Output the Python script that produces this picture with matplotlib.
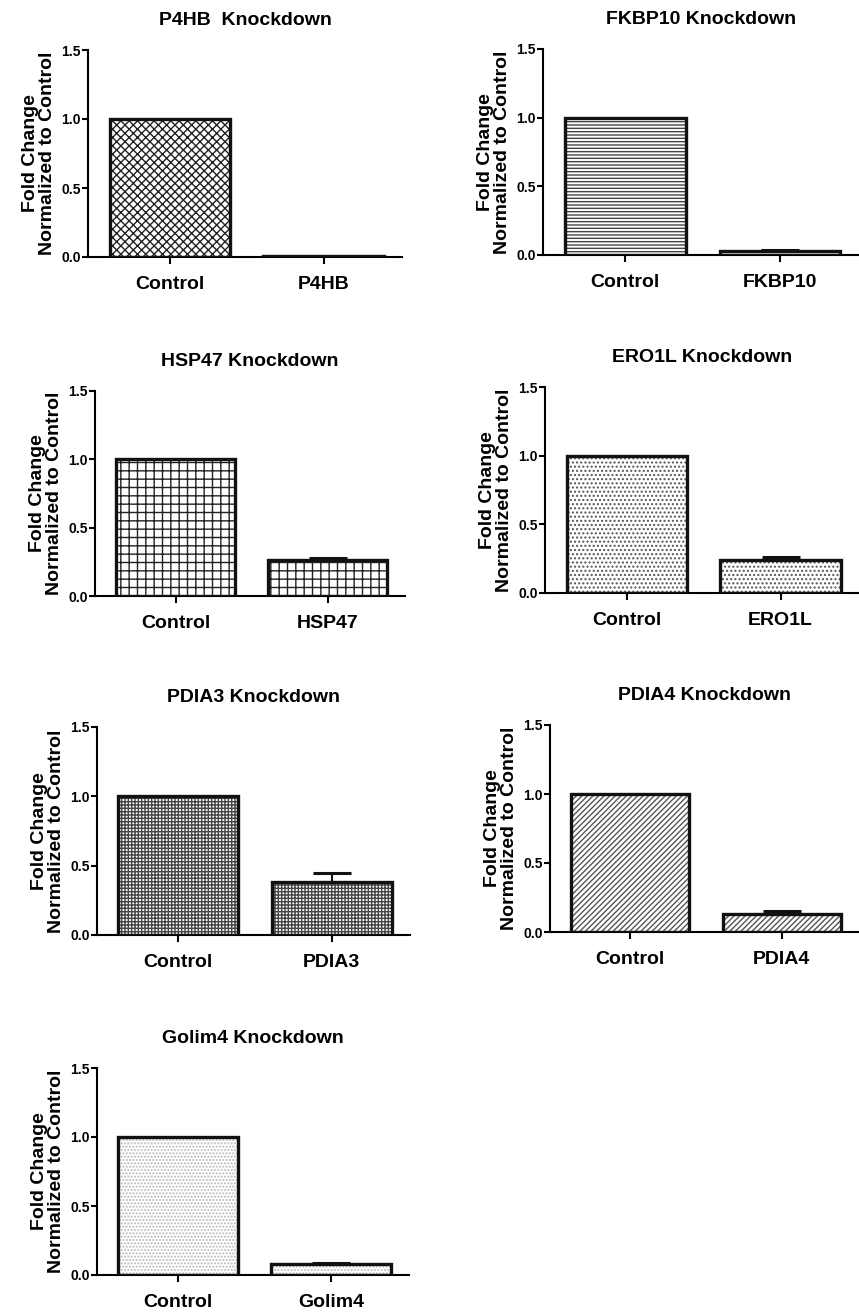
import matplotlib.pyplot as plt

plt.rcParams['font.family'] = ['Liberation Sans', 'DejaVu Sans']
plt.rcParams['font.weight'] = 'bold'
plt.rcParams['hatch.linewidth'] = 1.0

W, H = 859, 1312

genes = ['P4HB', 'FKBP10', 'HSP47', 'ERO1L', 'PDIA3', 'PDIA4', 'Golim4']
titles = ['P4HB  Knockdown', 'FKBP10 Knockdown', 'HSP47 Knockdown', 'ERO1L Knockdown',
          'PDIA3 Knockdown', 'PDIA4 Knockdown', 'Golim4 Knockdown']
control = [1.0, 1.0, 1.0, 1.0, 1.0, 1.0, 1.0]
knockdown = [0.01, 0.03, 0.26, 0.24, 0.38, 0.13, 0.08]
knockdown_err = [0.0, 0.005, 0.02, 0.02, 0.07, 0.02, 0.005]
yticks = [0.0, 0.5, 1.0, 1.5]

hatches = ['xxxx', '-----', '++', '....', '+++++', '//////', '.....']
hatch_cols = ['#222222', '#444444', '#222222', '#555555', '#444444', '#555555', '#bbbbbb']

# axes boxes in pixels: left, bottom(y=0), top(y=1.5), right
boxes = [(88, 257, 50, 402), (543, 255, 49, 859),
         (95, 596, 391, 405), (545, 593, 387, 859),
         (97, 935, 727, 410), (550, 932, 725, 859),
         (97, 1275, 1068, 409)]

fig = plt.figure(figsize=(W / 100, H / 100), dpi=100)

for i in range(len(genes)):
    l, b, t, r = boxes[i]
    ax = fig.add_axes([l / W, (H - b) / H, (r - l) / W, (b - t) / H])
    x = [0, 1]
    vals = [control[i], knockdown[i]]
    ax.bar(x, vals, width=0.78, color='white', edgecolor=hatch_cols[i],
           hatch=hatches[i], linewidth=0, zorder=2)
    ax.bar(x, vals, width=0.78, color='none', edgecolor='#111111',
           linewidth=2.4, zorder=3)
    if knockdown_err[i] > 0:
        ax.errorbar([1], [knockdown[i]], yerr=[[0], [knockdown_err[i]]], fmt='none',
                    ecolor='#111111', elinewidth=1.5, capsize=14, capthick=2.2, zorder=4)
    ax.set_xlim(-0.53, 1.51)
    ax.set_ylim(0, 1.5)
    ax.set_yticks(yticks)
    ax.set_yticklabels(['0.0', '0.5', '1.0', '1.5'], fontsize=10, fontweight='bold')
    ax.set_xticks(x)
    ax.set_xticklabels(['Control', genes[i]], fontsize=14, fontweight='bold')
    ax.tick_params(axis='x', length=5, width=1.5, pad=9)
    ax.tick_params(axis='y', length=4, width=1.5, pad=1)
    ax.spines['top'].set_visible(False)
    ax.spines['right'].set_visible(False)
    ax.spines['left'].set_linewidth(1.5)
    ax.spines['bottom'].set_linewidth(1.5)
    ax.set_ylabel('Fold Change\nNormalized to Control', fontsize=14, fontweight='bold',
                  linespacing=1.0, labelpad=4)
    ax.set_title(titles[i], fontsize=14, fontweight='bold', pad=18)

fig.savefig('out.png', dpi=100)
